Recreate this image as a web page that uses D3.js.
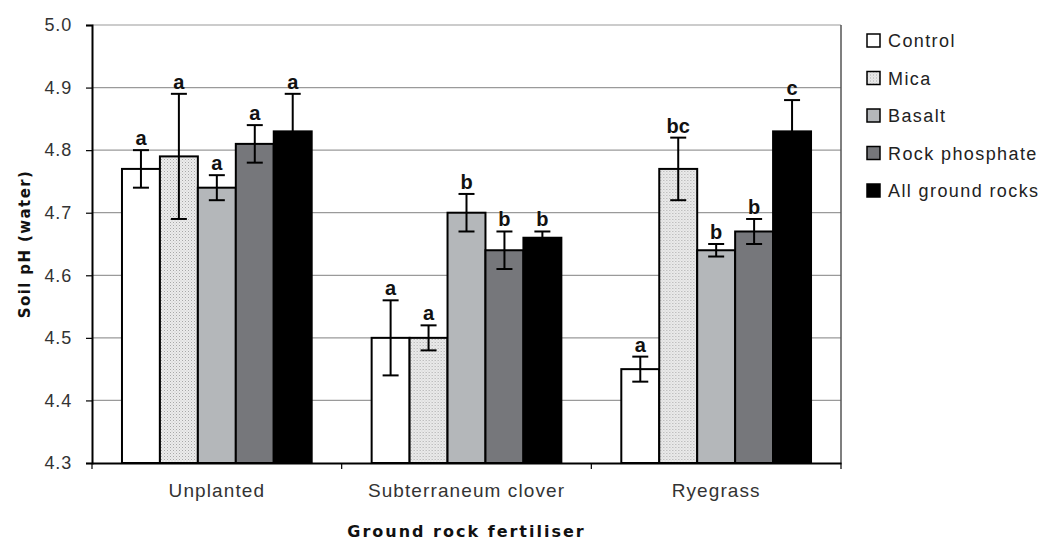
<!DOCTYPE html>
<html>
<head>
<meta charset="utf-8">
<script src="https://cdn.jsdelivr.net/npm/d3@7"></script>
<style>
  body { margin: 0; background: #fff; }
  text { font-family: "Liberation Sans", Arial, sans-serif; }
</style>
</head>
<body>
<div id="chart"></div>
<script>
// groups along the x axis and the treatments within each
const groups = ["Unplanted", "Subterraneum clover", "Ryegrass"];
const treatments = ["Control", "Mica", "Basalt", "Rock phosphate", "All ground rocks"];

// mean soil pH, one row per group, in treatment order
const means = [
    [4.77, 4.79, 4.74, 4.81, 4.83],
    [4.50, 4.50, 4.70, 4.64, 4.66],
    [4.45, 4.77, 4.64, 4.67, 4.83]
];
// error bar half-widths
const errors = [
    [0.03, 0.10, 0.02, 0.03, 0.06],
    [0.06, 0.02, 0.03, 0.03, 0.01],
    [0.02, 0.05, 0.01, 0.02, 0.05]
];
// significance letters
const letters = [
    ["a", "a", "a", "a", "a"],
    ["a", "a", "b", "b", "b"],
    ["a", "bc", "b", "b", "c"]
];
const yTicks = [4.3, 4.4, 4.5, 4.6, 4.7, 4.8, 4.9, 5.0];

const fills = ["#ffffff", "url(#stipple)", "#b4b7ba", "#76777b", "#000000"];

const W = 1046, H = 542;
const mLeft = 92, mRight = 841, mTop = 25, mBottom = 463;

const svg = d3.select("#chart").append("svg")
    .attr("width", W)
    .attr("height", H);

const pat = svg.append("defs").append("pattern")
    .attr("id", "stipple")
    .attr("width", 3).attr("height", 3)
    .attr("patternUnits", "userSpaceOnUse");
pat.append("rect").attr("width", 3).attr("height", 3).attr("fill", "#ececec");
pat.append("rect").attr("width", 1).attr("height", 1).attr("fill", "#a8a8a8");
pat.append("rect").attr("x", 1.5).attr("y", 1.5).attr("width", 1).attr("height", 1).attr("fill", "#c4c4c4");

const y = d3.scaleLinear().domain([4.3, 5.0]).range([mBottom, mTop]);
const x0 = d3.scaleBand().domain(groups).range([mLeft, mRight]);
const x1 = d3.scaleBand().domain(treatments).range([0, x0.bandwidth()]).paddingOuter(0.79).paddingInner(0);

// gridlines
svg.append("g").selectAll("line")
    .data(yTicks.slice(1))
    .join("line")
    .attr("x1", mLeft).attr("x2", mRight)
    .attr("y1", d => y(d)).attr("y2", d => y(d))
    .attr("stroke", "#9a9a9a")
    .attr("stroke-width", 1.2);

// frame right side
svg.append("line")
    .attr("x1", mRight).attr("x2", mRight).attr("y1", mTop).attr("y2", mBottom)
    .attr("stroke", "#555").attr("stroke-width", 1.5);

// bars
const g = svg.append("g").selectAll("g")
    .data(groups)
    .join("g")
    .attr("transform", d => `translate(${x0(d)},0)`);

const rows = gi => treatments.map((t, i) => ({
    t, i, v: means[gi][i], e: errors[gi][i], l: letters[gi][i]
}));

g.each(function (gname, gi) {
    const sel = d3.select(this);
    const data = rows(gi);

    sel.selectAll("rect")
        .data(data)
        .join("rect")
        .attr("x", d => x1(d.t))
        .attr("y", d => y(d.v))
        .attr("width", x1.bandwidth())
        .attr("height", d => y(4.3) - y(d.v))
        .attr("fill", d => fills[d.i])
        .attr("stroke", "#000")
        .attr("stroke-width", 2);

    const eb = sel.selectAll("g.err")
        .data(data)
        .join("g")
        .attr("class", "err")
        .attr("stroke", "#000")
        .attr("stroke-width", 2);
    const cx = d => x1(d.t) + x1.bandwidth() / 2;
    eb.append("line")
        .attr("x1", cx).attr("x2", cx)
        .attr("y1", d => y(d.v + d.e)).attr("y2", d => y(d.v - d.e));
    eb.append("line")
        .attr("x1", d => cx(d) - 8).attr("x2", d => cx(d) + 8)
        .attr("y1", d => y(d.v + d.e)).attr("y2", d => y(d.v + d.e));
    eb.append("line")
        .attr("x1", d => cx(d) - 8).attr("x2", d => cx(d) + 8)
        .attr("y1", d => y(d.v - d.e)).attr("y2", d => y(d.v - d.e));

    sel.selectAll("text.lab")
        .data(data)
        .join("text")
        .attr("class", "lab")
        .attr("x", cx)
        .attr("y", d => y(d.v + d.e) - 5)
        .attr("text-anchor", "middle")
        .attr("font-size", 20)
        .attr("font-weight", "bold")
        .attr("fill", "#111")
        .text(d => d.l);
});

// y axis
const yAxis = svg.append("g")
    .attr("transform", `translate(${mLeft},0)`)
    .call(d3.axisLeft(y).tickValues(yTicks).tickFormat(d3.format(".1f")).tickSize(6).tickPadding(14));
yAxis.select(".domain").attr("stroke", "#000").attr("stroke-width", 2);
yAxis.selectAll(".tick line").attr("stroke", "#000").attr("stroke-width", 1.2);
yAxis.selectAll("text").attr("font-size", 18).attr("letter-spacing", 0.8).attr("fill", "#333");

// x axis
const xAxis = svg.append("g")
    .attr("transform", `translate(0,${mBottom})`)
    .call(d3.axisBottom(x0).tickSize(0).tickPadding(21));
xAxis.select(".domain").attr("stroke", "#000").attr("stroke-width", 2);
xAxis.selectAll("text").attr("font-size", 19).attr("letter-spacing", 1.1).attr("fill", "#333");
xAxis.selectAll("line.sep")
    .data(groups.map(d => x0(d)).concat([mRight]))
    .join("line")
    .attr("class", "sep")
    .attr("x1", d => d).attr("x2", d => d)
    .attr("y1", 0).attr("y2", 6)
    .attr("stroke", "#000").attr("stroke-width", 1.2);

// axis titles
svg.append("text")
    .attr("transform", `translate(30,${(mTop + mBottom) / 2}) rotate(-90)`)
    .attr("text-anchor", "middle")
    .style("font-family", "'DejaVu Sans', Verdana, sans-serif")
    .attr("font-size", 15)
    .attr("font-weight", "bold")
    .attr("letter-spacing", 1.4)
    .attr("fill", "#111")
    .text("Soil pH (water)");

svg.append("text")
    .attr("x", (mLeft + mRight) / 2)
    .attr("y", 537)
    .attr("text-anchor", "middle")
    .style("font-family", "'DejaVu Sans', Verdana, sans-serif")
    .attr("font-size", 16)
    .attr("font-weight", "bold")
    .attr("letter-spacing", 2)
    .attr("fill", "#111")
    .text("Ground rock fertiliser");

// legend
const leg = svg.append("g").selectAll("g")
    .data(treatments)
    .join("g")
    .attr("transform", (d, i) => `translate(867,${40 + i * 37.5})`);
leg.append("rect")
    .attr("x", 0).attr("y", -6)
    .attr("width", 13).attr("height", 13)
    .attr("fill", (d, i) => fills[i])
    .attr("stroke", "#000").attr("stroke-width", 1.5);
leg.append("text")
    .attr("x", 21).attr("y", 7)
    .attr("font-size", 18)
    .attr("letter-spacing", 1.4)
    .attr("fill", "#222")
    .text(d => d);
</script>
</body>
</html>
